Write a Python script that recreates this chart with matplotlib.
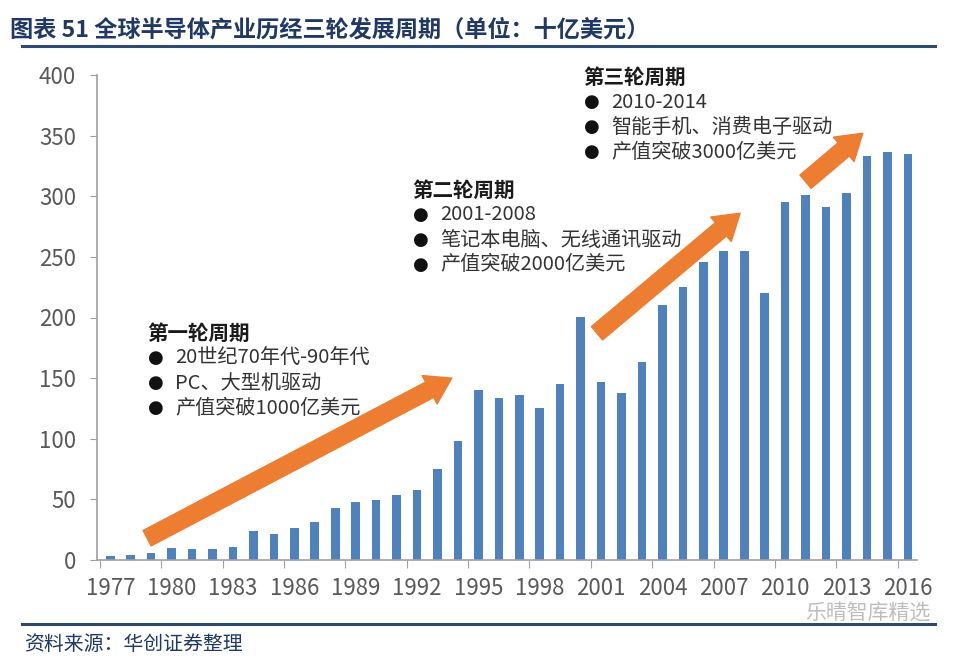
import numpy as np
import matplotlib
matplotlib.use('Agg')
import matplotlib.pyplot as plt

plt.rcParams['font.family'] = ['Noto Sans CJK SC', 'DejaVu Sans']

# Datos (十亿美元)
years = list(range(1977, 2017))
sales = [3, 4.5, 6, 9.5, 9, 9, 11, 24, 21.5, 26,
         31, 43, 48, 49.5, 54, 58, 75, 98.5, 140, 134,
         136, 125, 145, 200.5, 147, 137.5, 163, 210, 225, 246,
         255, 255, 220, 295.5, 301, 291, 303, 333.5, 336.5, 334.5]
tick_years = years[::3]

# Fases: (titulo, lineas, esquina px)
fases = [
    ('第一轮周期', ['20世纪70年代-90年代', 'PC、大型机驱动', '产值突破1000亿美元'], (147, 333)),
    ('第二轮周期', ['2001-2008', '笔记本电脑、无线通讯驱动', '产值突破2000亿美元'], (412, 190)),
    ('第三轮周期', ['2010-2014', '智能手机、消费电子驱动', '产值突破3000亿美元'], (583, 77)),
]
# Flechas (año inicio, valor inicio, año fin, valor fin)
flechas = [(1978.8, 18, 1993.7, 150),
           (2000.8, 187, 2007.8, 286),
           (2011.0, 312, 2013.8, 352)]

W, H = 960, 658
def px(x, y):
    return x / W, 1 - y / H

fig = plt.figure(figsize=(9.6, 6.58), dpi=100)
ax = fig.add_axes([97 / W, 98 / H, (917 - 97) / W, (560 - 75) / H])

x = np.arange(len(years))
ax.bar(x, sales, width=0.42, color='#4F81BD', zorder=2)

ax.set_ylim(0, 400)
ax.set_yticks(range(0, 401, 50))
ax.set_xlim(-0.65, len(years) - 0.55)

# ticks entre categorias, etiquetas centradas
ax.set_xticks(np.arange(-0.5, len(years), 3))
ax.set_xticklabels([])
ax.set_xticks([years.index(y) for y in tick_years], [str(y) for y in tick_years], minor=True)
ax.tick_params(axis='x', which='major', length=6, color='#A0A0A0', direction='out')
ax.tick_params(axis='x', which='minor', length=0, pad=12, labelsize=16, labelcolor='#595959')
ax.tick_params(axis='y', length=5, color='#A0A0A0', pad=10, labelsize=16, labelcolor='#595959')

for s in ['top', 'right']:
    ax.spines[s].set_visible(False)
for s in ['left', 'bottom']:
    ax.spines[s].set_color('#A0A0A0')
    ax.spines[s].set_linewidth(1.2)

# flechas naranjas
for x0, y0, x1, y1 in flechas:
    ax.annotate('', xy=(x1 - 1977, y1), xytext=(x0 - 1977, y0),
                arrowprops=dict(arrowstyle='simple,head_width=2.3,head_length=1.8,tail_width=1.25',
                                mutation_scale=10, color='#ED7D31', shrinkA=0, shrinkB=0),
                zorder=3)

# textos de las fases
for titulo, lineas, (tx, ty) in fases:
    fig.text(*px(tx, ty), titulo, fontsize=14.8, fontweight='bold', color='#1A1A1A', va='center')
    for i, l in enumerate(lineas):
        yy = ty + 25 * (i + 1)
        fig.text(*px(tx + 1, yy), '●', fontsize=13, color='#111111', va='center',
                 family=['DejaVu Sans'])
        fig.text(*px(tx + 28, yy), l, fontsize=14.5, color='#333333', va='center')

# titulo y lineas
fig.text(*px(10, 30), '图表 51 全球半导体产业历经三轮发展周期（单位：十亿美元）',
         fontsize=16.7, fontweight='bold', color='#1F3864', va='center')
fig.add_artist(plt.Line2D([22 / W, 935 / W], [1 - 46 / H, 1 - 46 / H], color='#2E4A6E', lw=2.2))
fig.add_artist(plt.Line2D([22 / W, 935 / W], [1 - 624 / H, 1 - 624 / H], color='#2E4A6E', lw=2.2))
fig.text(*px(24, 645), '资料来源：华创证券整理', fontsize=14.3, color='#1F3864', va='center')
fig.text(*px(930, 614), '乐晴智库精选', fontsize=15, color='#BDBDBD', va='center', ha='right')

fig.savefig('out.png', dpi=100)
